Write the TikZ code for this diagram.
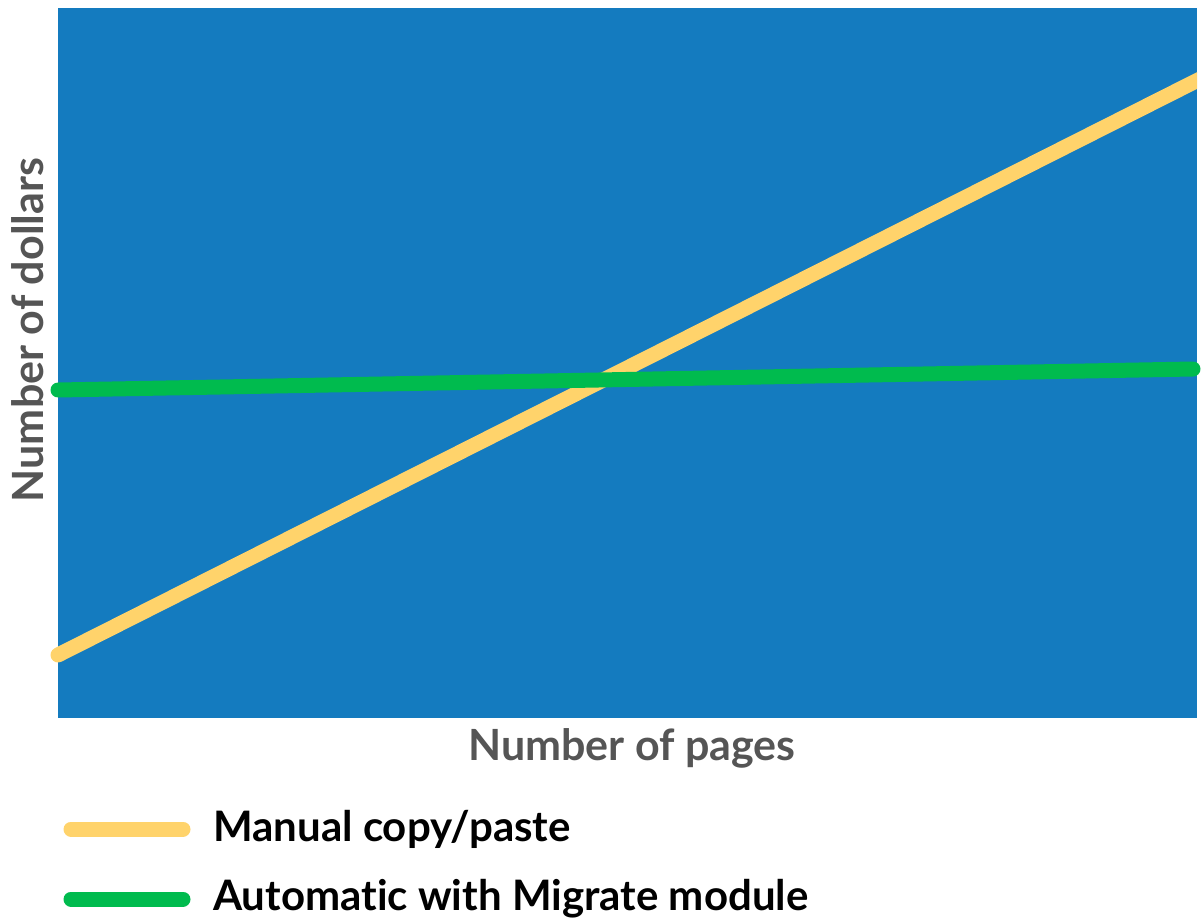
\documentclass[tikz,border=0pt]{standalone}
\usepackage{fontspec}
\setmainfont{Lato}[Ligatures={NoCommon}]
\definecolor{chartblue}{HTML}{147BBF}
\definecolor{manualyellow}{HTML}{FFD36B}
\definecolor{autogreen}{HTML}{00BB4E}
\definecolor{axisgray}{HTML}{555555}
\begin{document}
\begin{tikzpicture}[x=1pt,y=-1pt,
  series/.style={line width=15pt,line cap=round},
  axislabel/.style={text=axisgray,font=\fontsize{43}{43}\selectfont\bfseries,inner sep=0pt},
  legendtext/.style={text=black,font=\fontsize{42}{42}\selectfont\bfseries,inner sep=0pt,anchor=west}]
\useasboundingbox (0,0) rectangle (1201,920);
\fill[chartblue] (58,8) rectangle (1197,718);
\coordinate (m0) at (58,655);
\coordinate (m1) at (1204,77);
\coordinate (a0) at (58,390);
\coordinate (a1) at (1193,369);
\begin{scope}
\clip (0,0) rectangle (1197,920);
\draw[series,manualyellow] (m0) -- (m1);
\end{scope}
\draw[series,autogreen] (a0) -- (a1);
\node[axislabel] (xl) at (632,748) {Number of pages};
\node[axislabel,rotate=90] (yl) at (28,330) {Number of dollars};
\coordinate (lm0) at (71,829);
\coordinate (lm1) at (183,829);
\coordinate (la0) at (71,899);
\coordinate (la1) at (183,899);
\draw[series,manualyellow] (lm0) -- (lm1);
\draw[series,autogreen] (la0) -- (la1);
\node[legendtext] (lt1) at (213,829) {Manual copy/paste};
\node[legendtext] (lt2) at (213,899) {Automatic with Migrate module};
\end{tikzpicture}
\end{document}
